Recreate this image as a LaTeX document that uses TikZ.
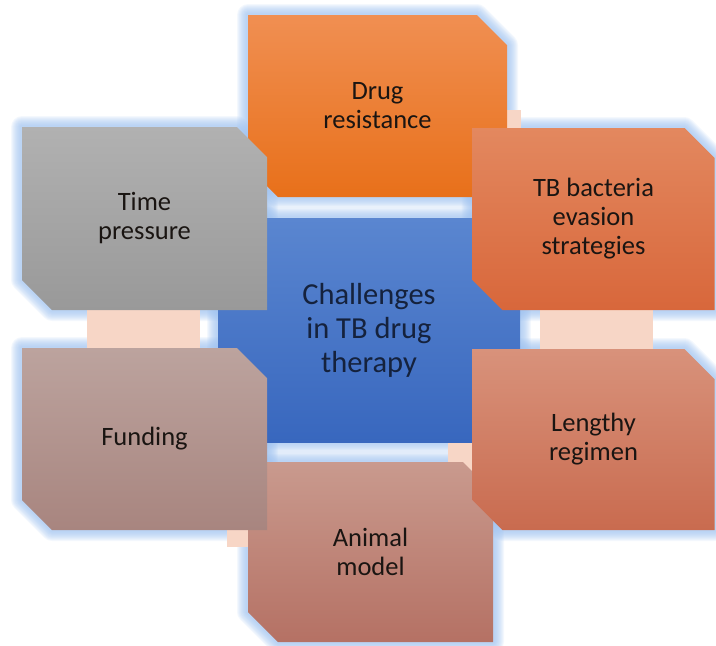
\documentclass[tikz,border=0pt]{standalone}
\usepackage{fontspec}
\setmainfont{Carlito}

\definecolor{haloblue}{HTML}{9CC0EF}
\definecolor{peach}{HTML}{F7D6C6}
\definecolor{inkdark}{HTML}{1A1512}
\definecolor{hubink}{HTML}{15223D}
\definecolor{hub-top}{HTML}{5A86D0}
\definecolor{hub-bot}{HTML}{3867BE}
\definecolor{drug-top}{HTML}{F08F52}
\definecolor{drug-bot}{HTML}{E8701A}
\definecolor{time-top}{HTML}{B1B1B1}
\definecolor{time-bot}{HTML}{999999}
\definecolor{tb-top}{HTML}{E3885F}
\definecolor{tb-bot}{HTML}{D8673B}
\definecolor{fund-top}{HTML}{BCA39E}
\definecolor{fund-bot}{HTML}{A8857F}
\definecolor{animal-top}{HTML}{C99A8E}
\definecolor{animal-bot}{HTML}{B57164}
\definecolor{length-top}{HTML}{D8927B}
\definecolor{length-bot}{HTML}{C96B4F}

% box outline with the top right and bottom left corners cut off
\newcommand\snip[4]{({#1-#3/2},{#2-#4/2}) -- ++({#3-30},0) -- ++(30,30)
  -- ({#1+#3/2},{#2+#4/2}) -- ++({30-#3},0) -- ++(-30,-30) -- cycle}

\tikzset{
  halo/.style={draw=haloblue, line width=#1, line join=round, opacity=.11},
  bridge/.style={fill=peach},
  boxtext/.style={align=center, text=inkdark,
    font=\fontsize{26.5}{29}\selectfont},
  hubtext/.style={align=center, text=hubink,
    font=\fontsize{30.5}{34}\selectfont},
}

\begin{document}
\begin{tikzpicture}[x=1pt,y=-1pt]
    \useasboundingbox (0,0) rectangle (716,646);

    % soft blue glow behind everything
    \foreach \lw in {22,20,...,4} {
        \path[halo=\lw pt] (218,218) rectangle (520,442);
        \foreach \cx/\cy/\w/\h in {377.5/106/259/182, 144.5/218.5/245/183,
            593.5/219/242/182, 144.5/439/245/182, 370.5/552/245/180,
            593.5/439.5/242/181} {
            \path[halo=\lw pt] \snip{\cx}{\cy}{\w}{\h};
        }
    }

    % ring of links between the outer boxes
    \foreach \xa/\ya/\xb/\yb in {87/300/200/360, 540/300/653/360,
        480/110/521/150, 227/500/260/547, 448/443/490/478} {
        \fill[bridge] (\xa,\ya) rectangle (\xb,\yb);
    }

    % centre box
    \shade[top color=hub-top, bottom color=hub-bot] (218,218) rectangle (520,442);
    \node[hubtext] (hub) at (369,330) {Challenges\\in TB drug\\therapy};

    % outer boxes
    \foreach \nm/\cx/\cy/\w/\h/\txt in {
        drug/377.5/106/259/182/{Drug\\resistance},
        animal/370.5/552/245/180/{Animal\\model},
        time/144.5/218.5/245/183/{Time\\pressure},
        tb/593.5/219/242/182/{TB bacteria\\evasion\\strategies},
        fund/144.5/439/245/182/{Funding},
        length/593.5/439.5/242/181/{Lengthy\\regimen}} {
        \shade[top color=\nm-top, bottom color=\nm-bot] \snip{\cx}{\cy}{\w}{\h};
        \node[boxtext] (\nm) at (\cx,\cy) {\txt};
    }
\end{tikzpicture}
\end{document}
